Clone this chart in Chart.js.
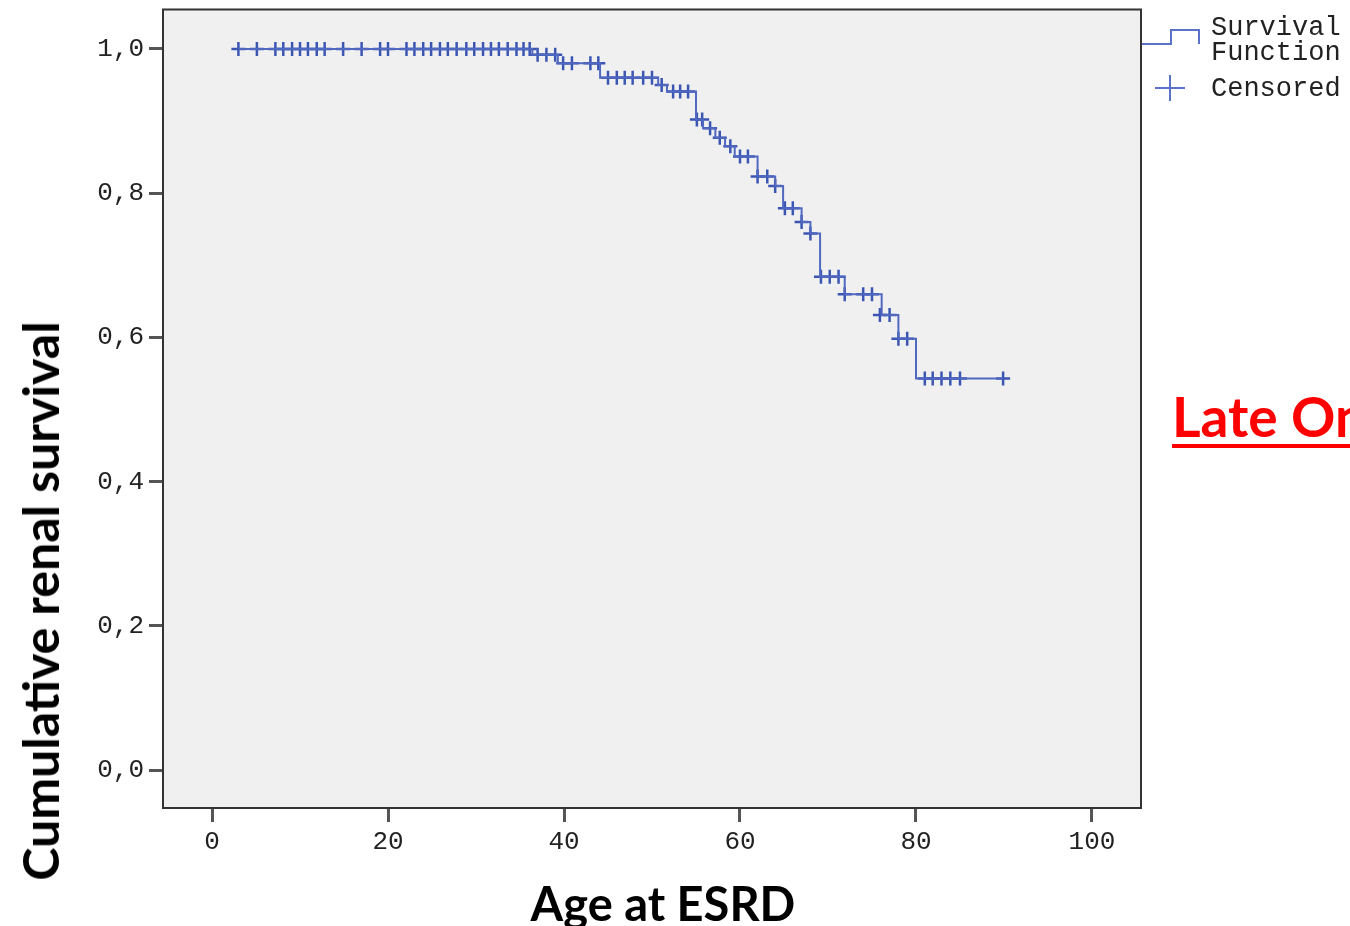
<!DOCTYPE html>
<html lang="en">
<head>
  <meta charset="UTF-8" />
  <title>Cumulative renal survival - Late Onset</title>
  <script src="https://cdn.jsdelivr.net/npm/chart.js"></script>
  <style>
    body {
      margin: 0;
      background: #fff;
      overflow: hidden;
    }
    .wrap {
      position: relative;
      width: 1350px;
      height: 926px;
      overflow: hidden;
    }
    .ytitle, .xtitle, .tag {
      position: absolute;
      font-family: Lato, 'Open Sans', sans-serif;
      font-weight: bold;
      white-space: nowrap;
    }
    .ytitle {
      font-size: 50px;
      color: #000;
      left: 40px;
      top: 601px;
      transform: translate(-50%, -50%) rotate(-90deg);
    }
    .xtitle {
      font-size: 47px;
      color: #000;
      left: 663px;
      top: 875px;
      transform: translateX(-50%);
    }
    .tag {
      font-size: 55px;
      color: #ff0000;
      left: 1172px;
      top: 383px;
      text-decoration: underline;
      text-decoration-thickness: 4px;
      text-underline-offset: 7px;
    }
    .legend {
      position: absolute;
      left: 1211px;
      font-family: 'Liberation Mono', monospace;
      font-size: 27px;
      color: #222;
      line-height: 25px;
      white-space: nowrap;
    }
  </style>
</head>
<body>
  <div class="wrap">
    <canvas id="km" width="1350" height="926"></canvas>
    <div class="ytitle">Cumulative renal survival</div>
    <div class="xtitle">Age at ESRD</div>
    <div class="tag">Late Onset</div>
    <div class="legend" style="top: 16px;">Survival<br>Function</div>
    <div class="legend" style="top: 77px;">Censored</div>
  </div>

  <script>
    // Kaplan-Meier steps (age at event, survival after event)
    const survAges = [3, 36.4, 39.3, 44.1, 50.7, 51.7, 55.0, 55.8, 57.2, 58.3, 59.4, 62.0, 64.0, 64.9, 67.0, 68.0, 69.1, 71.9, 76.1, 78.0, 80.0, 89.9];
    const survValues = [1.0, 0.992, 0.980, 0.960, 0.950, 0.941, 0.902, 0.890, 0.877, 0.865, 0.851, 0.823, 0.810, 0.779, 0.760, 0.744, 0.684, 0.660, 0.631, 0.598, 0.543, 0.543];

    // censored cases
    const censorAges = [
      3.0, 5.1, 7.2, 8.1, 9.1, 10.0, 10.9, 11.9, 12.8, 14.9, 17.0, 19.1, 20.0, 22.1, 23.0, 24.0, 24.9, 25.9, 26.8, 27.8,
      28.9, 29.8, 30.8, 31.7, 32.6, 33.6, 34.6, 35.4, 36.1,
      37.0, 38.0, 39.0,
      39.9, 40.9, 43.0, 43.9,
      45.0, 46.0, 46.9, 47.8, 49.0, 50.0,
      51.1,
      52.4, 53.2, 54.1,
      55.1, 55.7,
      56.6, 57.7, 58.9,
      60.0, 60.9,
      62.0, 63.1,
      64.0,
      65.1, 66.0,
      67.0, 68.0,
      69.2, 70.2, 71.2,
      71.9, 74.0, 75.0,
      75.9, 77.0,
      78.0, 79.0,
      81.0, 81.9, 82.9, 83.9, 85.0, 89.9
    ];
    const censorValues = [
      1, 1, 1, 1, 1, 1, 1, 1, 1, 1, 1, 1, 1, 1, 1, 1, 1, 1, 1, 1,
      1, 1, 1, 1, 1, 1, 1, 1, 1,
      0.992, 0.992, 0.992,
      0.980, 0.980, 0.980, 0.980,
      0.960, 0.960, 0.960, 0.960, 0.960, 0.960,
      0.950,
      0.941, 0.941, 0.941,
      0.902, 0.902,
      0.890, 0.877, 0.865,
      0.851, 0.851,
      0.823, 0.823,
      0.810,
      0.779, 0.779,
      0.760, 0.744,
      0.684, 0.684, 0.684,
      0.660, 0.660, 0.660,
      0.631, 0.631,
      0.598, 0.598,
      0.543, 0.543, 0.543, 0.543, 0.543, 0.543
    ];

    const xTicks = [0, 20, 40, 60, 80, 100];
    const yTicks = [0, 0.2, 0.4, 0.6, 0.8, 1.0];

    const lineColor = '#5068c0';
    const markColor = '#3b55b3';

    // grey plot area + frame + the legend symbols
    const spssFrame = {
      id: 'spssFrame',
      beforeDraw(chart) {
        const { ctx, chartArea: a } = chart;
        ctx.save();
        ctx.fillStyle = '#f0f0f0';
        ctx.fillRect(a.left, a.top, a.right - a.left, a.bottom - a.top);
        ctx.restore();
      },
      afterDraw(chart) {
        const { ctx, chartArea: a } = chart;
        ctx.save();
        ctx.strokeStyle = '#333';
        ctx.lineWidth = 2;
        ctx.strokeRect(a.left, a.top, a.right - a.left, a.bottom - a.top);

        // legend: step line and cross
        ctx.strokeStyle = '#5a72c8';
        ctx.lineWidth = 2;
        ctx.beginPath();
        ctx.moveTo(a.right + 1, 44);
        ctx.lineTo(1171, 44);
        ctx.lineTo(1171, 30);
        ctx.lineTo(1199, 30);
        ctx.lineTo(1199, 44);
        ctx.stroke();
        ctx.beginPath();
        ctx.moveTo(1155, 88);
        ctx.lineTo(1185, 88);
        ctx.moveTo(1170, 75);
        ctx.lineTo(1170, 101);
        ctx.stroke();
        ctx.restore();
      }
    };

    const fmt = v => v.toFixed(1).replace('.', ',');

    new Chart(document.getElementById('km'), {
      data: {
        datasets: [
          {
            type: 'line',
            label: 'Survival Function',
            data: survAges.map((a, i) => ({ x: a, y: survValues[i] })),
            stepped: 'before',
            borderColor: lineColor,
            borderWidth: 2,
            pointRadius: 0,
            fill: false
          },
          {
            type: 'scatter',
            label: 'Censored',
            data: censorAges.map((a, i) => ({ x: a, y: censorValues[i] })),
            pointStyle: 'cross',
            pointRadius: 7,
            borderWidth: 2.5,
            borderColor: markColor,
            backgroundColor: markColor
          }
        ]
      },
      options: {
        responsive: false,
        animation: false,
        layout: { padding: { left: 63, top: 6, right: 209, bottom: 58 } },
        plugins: {
          legend: { display: false },
          tooltip: { enabled: false }
        },
        scales: {
          x: {
            type: 'linear',
            min: -5.57,
            max: 105.57,
            afterFit: s => { s.height = 60; s.paddingLeft = 0; s.paddingRight = 0; },
            afterBuildTicks: s => { s.ticks = xTicks.map(v => ({ value: v })); },
            border: { display: false },
            grid: { drawOnChartArea: false, tickLength: 14, color: '#555', lineWidth: 3 },
            ticks: {
              padding: 5,
              color: '#222',
              font: { family: 'Liberation Mono', size: 26 },
              callback: v => String(v)
            }
          },
          y: {
            type: 'linear',
            min: -0.0526,
            max: 1.0547,
            afterFit: s => { s.width = 100; s.paddingTop = 0; s.paddingBottom = 0; },
            afterBuildTicks: s => { s.ticks = yTicks.map(v => ({ value: v })); },
            border: { display: false },
            grid: { drawOnChartArea: false, tickLength: 14, color: '#555', lineWidth: 3 },
            ticks: {
              padding: 5,
              color: '#222',
              font: { family: 'Liberation Mono', size: 26 },
              callback: v => fmt(v)
            }
          }
        }
      },
      plugins: [spssFrame]
    });
  </script>
</body>
</html>
